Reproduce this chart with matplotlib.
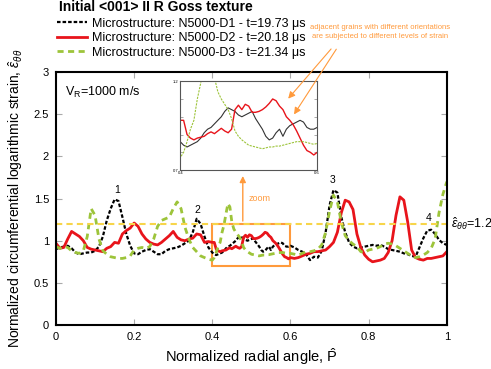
import numpy as np
import matplotlib
matplotlib.use('Agg')
import matplotlib.pyplot as plt

plt.rcParams['font.family'] = ['Liberation Sans', 'DejaVu Sans']
plt.rcParams['mathtext.fontset'] = 'custom'
plt.rcParams['mathtext.rm'] = 'Liberation Sans'
plt.rcParams['mathtext.it'] = 'Liberation Sans:italic'

# sample positions: coarse outside the zoom window, finer inside it
angle = np.r_[np.arange(0, 40) * 0.01, 0.40 + np.arange(0, 40) * 0.005, 0.60 + np.arange(0, 41) * 0.01]

d1 = [0.90, 0.92, 0.93, 0.94, 0.91, 0.86, 0.84, 0.85, 0.86, 0.86,
      0.88, 0.93, 1.05, 1.24, 1.38, 1.49, 1.47, 1.28, 1.08, 0.94,
      0.85, 0.84, 0.87, 0.89, 0.90, 0.87, 0.84, 0.84, 0.88, 0.90,
      0.91, 0.92, 0.94, 0.97, 1.00, 1.10, 1.26, 1.20, 1.05, 0.92,
      # 0.40 - 0.595
      0.86, 0.84, 0.83, 0.84, 0.85, 0.86, 0.88, 0.91, 0.93, 0.94,
      0.96, 0.98, 1.00, 1.03, 1.05, 1.04, 1.03, 1.01, 1.00, 1.01,
      1.02, 1.03, 0.99, 0.96, 0.93, 0.89, 0.87, 0.88, 0.91, 0.93,
      0.89, 0.93, 0.95, 0.96, 0.97, 0.98, 0.97, 0.94, 0.93, 0.93,
      # 0.60 - 1.00
      0.94, 0.92, 0.89, 0.87, 0.84, 0.77, 0.81, 0.80, 0.88, 1.10,
      1.42, 1.60, 1.57, 1.28, 1.10, 0.98, 0.93, 0.91, 0.92, 0.93,
      0.94, 0.95, 0.94, 0.95, 0.93, 0.90, 0.89, 0.88, 0.87, 0.85,
      0.84, 0.82, 0.81, 0.92, 1.03, 1.12, 1.13, 1.08, 1.01, 0.97,
      0.95]

d2 = [0.97, 0.91, 0.92, 1.02, 1.11, 1.08, 1.05, 1.00, 0.92, 0.90,
      0.89, 0.88, 0.87, 0.91, 0.93, 0.98, 0.97, 1.08, 1.12, 1.15,
      1.21, 1.17, 1.08, 1.02, 0.98, 0.96, 0.95, 0.98, 1.02, 1.06,
      1.11, 1.04, 1.01, 1.00, 1.02, 1.03, 1.08, 1.07, 0.98, 0.99,
      # 0.40 - 0.595
      0.98, 0.98, 0.90, 0.88, 0.87, 0.88, 0.885, 0.89, 0.905, 0.915,
      0.905, 0.92, 0.935, 0.92, 0.91, 0.93, 1.04, 1.065, 1.04, 1.07,
      1.06, 1.025, 1.025, 1.03, 1.04, 1.055, 1.075, 1.10, 1.09, 1.06,
      1.04, 1.00, 0.98, 0.955, 0.92, 0.88, 0.84, 0.81, 0.80, 0.785,
      # 0.60 - 1.00
      0.80, 0.79, 0.80, 0.82, 0.84, 0.85, 0.87, 0.87, 0.88, 0.89,
      0.93, 0.98, 1.10, 1.33, 1.48, 1.46, 1.37, 1.08, 0.92, 0.83,
      0.78, 0.75, 0.76, 0.77, 0.79, 0.86, 1.00, 1.30, 1.52, 1.48,
      1.22, 0.89, 0.80, 0.78, 0.77, 0.79, 0.79, 0.80, 0.81, 0.82,
      0.87]

d3 = [0.93, 0.91, 0.93, 0.92, 0.88, 0.86, 0.85, 0.88, 1.05, 1.38,
      1.30, 1.02, 0.88, 0.84, 0.81, 0.80, 0.79, 0.79, 0.80, 0.82,
      0.89, 0.91, 0.92, 0.91, 0.93, 1.02, 1.17, 1.24, 1.26, 1.28,
      1.38, 1.46, 1.38, 1.16, 1.02, 0.92, 0.87, 0.82, 0.80, 0.78,
      # 0.40 - 0.595
      0.77, 0.80, 0.86, 0.93, 0.98, 1.10, 1.19, 1.32, 1.44, 1.40,
      1.22, 1.14, 1.10, 1.07, 1.04, 0.99, 0.92, 0.89, 0.87, 0.855,
      0.84, 0.835, 0.83, 0.825, 0.82, 0.825, 0.83, 0.83, 0.835, 0.835,
      0.84, 0.845, 0.85, 0.855, 0.86, 0.86, 0.86, 0.855, 0.85, 0.845,
      # 0.60 - 1.00
      0.85, 0.84, 0.83, 0.85, 0.87, 0.87, 0.88, 0.90, 0.95, 1.10,
      1.35, 1.54, 1.46, 1.22, 1.06, 1.00, 0.96, 0.93, 0.87, 0.86,
      0.89, 0.90, 0.91, 0.93, 0.96, 0.97, 0.96, 0.94, 0.91, 0.88,
      0.85, 0.82, 0.80, 0.81, 0.83, 0.86, 0.91, 1.02, 1.33, 1.55,
      1.70]

labels = ['Microstructure: N5000-D1 - t=19.73 μs',
          'Microstructure: N5000-D2 - t=20.18 μs',
          'Microstructure: N5000-D3 - t=21.34 μs']
threshold = 1.2
peak_x = [0.156, 0.363, 0.708, 0.954]
peak_y = [1.60, 1.36, 1.72, 1.27]
peak_names = ['1', '2', '3', '4']

c_black = 'black'
c_red = '#e8141b'
c_green = '#9dc43a'
c_orange = '#ff9a3c'
c_yellow = '#f7d54a'

fig = plt.figure(figsize=(4.91, 3.69), dpi=100)
ax = fig.add_axes([0.114, 0.119, 0.796, 0.686])

l1, = ax.plot(angle, d1, color=c_black, lw=1.6, linestyle=(0, (1.6, 0.9)))
l2, = ax.plot(angle, d2, color=c_red, lw=2.0)
l3, = ax.plot(angle, d3, color=c_green, lw=2.0, linestyle=(0, (2.2, 1.6)))
ax.axhline(threshold, color=c_yellow, lw=1.5, linestyle=(0, (3, 2)))

ax.set_xlim(0, 1)
ax.set_ylim(0, 3)
ax.set_xticks([0, 0.2, 0.4, 0.6, 0.8, 1])
ax.set_xticklabels(['0', '0.2', '0.4', '0.6', '0.8', '1'])
ax.set_yticks([0, 0.5, 1, 1.5, 2, 2.5, 3])
ax.set_yticklabels(['0', '0.5', '1', '1.5', '2', '2.5', '3'])
ax.tick_params(direction='in', length=4, width=0.8, color='#aaaaaa',
               top=True, right=True, labelsize=8, pad=5)
for s in ax.spines.values():
    s.set_linewidth(1.5)
ax.set_xlabel('Normalized radial angle, $\\hat{\\mathrm{P}}$', fontsize=10.5, labelpad=3)
ax.set_ylabel('Normalized circumferential logarithmic strain, $\\hat{\\varepsilon}_{\\theta\\theta}$',
              fontsize=10, labelpad=6)

ax.text(0.022, 2.72, 'V$_\\mathrm{R}$=1000 m/s', fontsize=9)
for px, py, nm in zip(peak_x, peak_y, peak_names):
    ax.text(px, py, nm, fontsize=7.5, ha='center', va='center')

fig.text(0.918, 0.395, '$\\hat{\\varepsilon}_{\\theta\\theta}$=1.2', fontsize=9, va='center')

# zoom box and arrow to the inset
ax.add_patch(plt.Rectangle((0.4, 0.7), 0.2, 0.5, fill=False, ec=c_orange, lw=1.5))
ax.annotate('', xy=(0.478, 1.80), xytext=(0.478, 1.2),
            arrowprops=dict(arrowstyle='-|>', color=c_orange, lw=1.0, mutation_scale=9))
ax.text(0.492, 1.5, 'zoom', color=c_orange, fontsize=6.5, va='center')

fig.text(0.12, 0.981, 'Initial <001> II R Goss texture', fontsize=10, fontweight='bold', va='center')
fig.legend([l1, l2, l3], labels, loc='upper left', bbox_to_anchor=(0.116, 0.952),
           frameon=False, fontsize=9, handlelength=2.4, handletextpad=0.4,
           labelspacing=0.2, borderaxespad=0, borderpad=0)

# inset
axi = fig.add_axes([0.367, 0.539, 0.279, 0.241])
axi.plot(angle, d1, color='#333333', lw=0.8)
axi.plot(angle, d2, color=c_red, lw=1.0)
axi.plot(angle, d3, color=c_green, lw=0.8, linestyle=(0, (2, 1)))
axi.set_xlim(0.4, 0.6)
axi.set_ylim(0.7, 1.2)
axi.set_xticks([0.4, 0.6])
axi.set_xticklabels(['0.4', '0.6'])
axi.set_yticks([0.7, 0.8, 0.9, 1.0, 1.1, 1.2])
axi.set_yticklabels(['0.7', '', '', '', '', '1.2'])
axi.tick_params(direction='in', length=2, width=0.5, color='#888888',
                top=True, right=True, labelsize=3, pad=1)
for s in axi.spines.values():
    s.set_linewidth(0.8)
    s.set_color('#555555')

fig.text(0.775, 0.913, 'adjacent grains with different orientations\nare subjected to different levels of strain',
         color=c_orange, fontsize=5.5, ha='center', va='center', linespacing=1.3)
axi.annotate('', xy=(0.555, 1.09), xycoords='data', xytext=(0.678, 0.873), textcoords='figure fraction',
             arrowprops=dict(arrowstyle='-|>', color=c_orange, lw=0.8, mutation_scale=10))
axi.annotate('', xy=(0.564, 1.00), xycoords='data', xytext=(0.688, 0.873), textcoords='figure fraction',
             arrowprops=dict(arrowstyle='-|>', color=c_orange, lw=0.8, mutation_scale=10))

fig.savefig('out.png', dpi=100)
